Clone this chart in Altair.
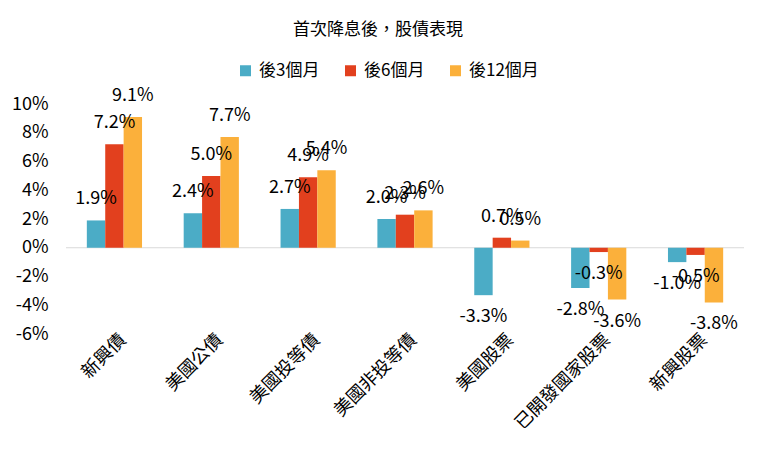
import altair as alt
import pandas as pd

categories = ["新興債", "美國公債", "美國投等債", "美國非投等債", "美國股票", "已開發國家股票", "新興股票"]
series = ["後3個月", "後6個月", "後12個月"]
after_3m = [1.9, 2.4, 2.7, 2.0, -3.3, -2.8, -1.0]
after_6m = [7.2, 5.0, 4.9, 2.3, 0.7, -0.3, -0.5]
after_12m = [9.1, 7.7, 5.4, 2.6, 0.5, -3.6, -3.8]
colors = ["#4BACC6", "#E2401E", "#FBB03B"]
y_ticks = [-6, -4, -2, 0, 2, 4, 6, 8, 10]

rows = []
for s, vals in zip(series, [after_3m, after_6m, after_12m]):
    for c, v in zip(categories, vals):
        rows.append({"category": c, "series": s, "value": v})
df = pd.DataFrame(rows)

FONT = "Noto Sans CJK TC"

x_scale = alt.Scale(paddingInner=0.43, paddingOuter=0.215)
x_axis = alt.Axis(labelAngle=-45, labelAlign="right", labelBaseline="middle",
                  labelPadding=3, labelOffset=9, ticks=False, domain=False,
                  labelOverlap=False, labelFontSize=18, labelColor="#000000",
                  labelFont=FONT, title=None)
x_enc = alt.X("category:N", sort=categories, scale=x_scale, axis=x_axis)
xo_enc = alt.XOffset("series:N", sort=series, scale=alt.Scale(paddingInner=0, paddingOuter=0))
y_scale = alt.Scale(domain=[-6, 10], nice=False, zero=False)
y_axis = alt.Axis(values=y_ticks, labelExpr="datum.value + '%'", grid=False,
                  domain=False, ticks=False, labelPadding=18, labelFontSize=18,
                  labelOverlap=False, labelColor="#000000", labelFont=FONT, title=None)
y_enc = alt.Y("value:Q", scale=y_scale, axis=y_axis)

base = alt.Chart(df)

bars = base.mark_bar().encode(
    x=x_enc,
    xOffset=xo_enc,
    y=y_enc,
    color=alt.Color("series:N", sort=series,
                    scale=alt.Scale(domain=series, range=colors),
                    legend=alt.Legend(title=None, orient="none", direction="horizontal",
                                      legendX=171, legendY=-42, symbolType="square",
                                      symbolSize=121, symbolStrokeWidth=0,
                                      labelFontSize=17, labelFont=FONT,
                                      labelColor="#000000", columnPadding=22,
                                      labelOffset=5)),
)

zero = alt.Chart(pd.DataFrame({"value": [0]})).mark_rule(color="#D9D9D9", strokeWidth=1).encode(
    y=y_enc
)

lab = base.transform_calculate(
    label="(datum.value < 0 ? '-' : '') + format(abs(datum.value), '.1f') + '%'"
)

pos_text = lab.transform_filter("datum.value >= 0").mark_text(
    dy=-21, fontSize=18, font=FONT, color="#000000", baseline="middle"
).encode(x=x_enc, xOffset=xo_enc, y=y_enc, text="label:N")

neg_text = lab.transform_filter("datum.value < 0").mark_text(
    dy=22, fontSize=18, font=FONT, color="#000000", baseline="middle"
).encode(x=x_enc, xOffset=xo_enc, y=y_enc, text="label:N")

chart = alt.layer(zero, bars, pos_text, neg_text).properties(
    width=678, height=230,
    autosize=alt.AutoSizeParams(type="none"),
    padding={"left": 58, "top": 96, "right": 8, "bottom": 120},
    title=alt.TitleParams("首次降息後，股債表現", fontSize=17, font=FONT, fontWeight="normal",
                          color="#000000", anchor="middle", frame="group", dx=-27, offset=23),
).configure_view(stroke=None).configure_axis(labelOverlap=False)

chart.save("out.html", embed_options={"renderer": "svg", "actions": False})
